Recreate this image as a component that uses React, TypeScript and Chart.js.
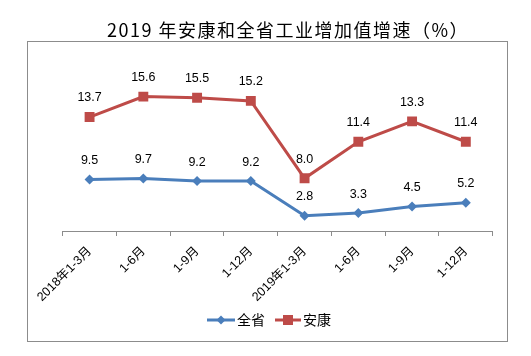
import React, { useEffect, useRef } from "react";
import { Chart, registerables } from "chart.js";

Chart.register(...registerables);

const categories = ["2018年1-3月", "1-6月", "1-9月", "1-12月", "2019年1-3月", "1-6月", "1-9月", "1-12月"];
const provinceValues = [9.5, 9.7, 9.2, 9.2, 2.8, 3.3, 4.5, 5.2];
const ankangValues = [13.7, 15.6, 15.5, 15.2, 8.0, 11.4, 13.3, 11.4];
const seriesNames = ["全省", "安康"];
const titleText = "2019 年安康和全省工业增加值增速（%）";

const BLUE = "#4A7EBB";
const RED = "#BE4B48";

const decorPlugin = {
  id: "decor",
  beforeDraw(chart: any) {
    const ctx = chart.ctx;
    ctx.save();
    ctx.fillStyle = "#fff";
    ctx.fillRect(0, 0, chart.width, chart.height);
    ctx.strokeStyle = "#8c8c8c";
    ctx.lineWidth = 1;
    ctx.strokeRect(27.5, 41.5, 480, 300);
    ctx.fillStyle = "#000";
    ctx.font = '18px "Noto Sans CJK SC", sans-serif';
    try { (ctx as any).letterSpacing = "1.5px"; } catch (e) {}
    ctx.textAlign = "center";
    ctx.textBaseline = "middle";
    ctx.fillText(titleText, 288, 30);
    ctx.restore();
  },
  afterDatasetsDraw(chart: any) {
    const ctx = chart.ctx;
    ctx.save();
    ctx.fillStyle = "#000";
    ctx.font = '12.5px "Liberation Sans", "Noto Sans CJK SC", sans-serif';
    ctx.textAlign = "center";
    ctx.textBaseline = "middle";
    chart.data.datasets.forEach((ds: any, i: number) => {
      const meta = chart.getDatasetMeta(i);
      meta.data.forEach((pt: any, j: number) => {
        const v = ds.data[j];
        ctx.fillText(v.toFixed(1), pt.x, pt.y - 19);
      });
    });
    // legend
    const ly = 320;
    ctx.lineWidth = 3;
    ctx.strokeStyle = BLUE;
    ctx.beginPath();
    ctx.moveTo(207, ly);
    ctx.lineTo(235, ly);
    ctx.stroke();
    ctx.fillStyle = BLUE;
    ctx.beginPath();
    ctx.moveTo(221, ly - 4.5);
    ctx.lineTo(225.5, ly);
    ctx.lineTo(221, ly + 4.5);
    ctx.lineTo(216.5, ly);
    ctx.closePath();
    ctx.fill();
    ctx.strokeStyle = RED;
    ctx.beginPath();
    ctx.moveTo(275, ly);
    ctx.lineTo(301, ly);
    ctx.stroke();
    ctx.fillStyle = RED;
    ctx.fillRect(283, ly - 5, 10, 10);
    ctx.fillStyle = "#000";
    ctx.font = '14px "Noto Sans CJK SC", sans-serif';
    ctx.textAlign = "left";
    ctx.fillText(seriesNames[0], 237, ly);
    ctx.fillText(seriesNames[1], 303, ly);
    ctx.restore();
  },
};

export default function App() {
  const ref = useRef<HTMLCanvasElement | null>(null);
  useEffect(() => {
    if (!ref.current) return;
    const chart = new Chart(ref.current, {
      type: "line",
      data: {
        labels: categories,
        datasets: [
          {
            label: seriesNames[0],
            data: provinceValues,
            borderColor: BLUE,
            backgroundColor: BLUE,
            borderWidth: 3,
            pointStyle: "rectRot",
            pointRadius: 5,
            pointBorderWidth: 0,
            yAxisID: "y",
            tension: 0,
          },
          {
            label: seriesNames[1],
            data: ankangValues,
            borderColor: RED,
            backgroundColor: RED,
            borderWidth: 3,
            pointStyle: "rect",
            pointRadius: 7,
            pointBorderWidth: 0,
            yAxisID: "y2",
            tension: 0,
          },
        ],
      },
      options: {
        responsive: false,
        animation: false,
        layout: { padding: { left: 62.7, right: 38.3, top: 45, bottom: 0 } },
        plugins: {
          legend: { display: false },
          title: { display: false },
          tooltip: { enabled: false },
        },
        scales: {
          x: {
            offset: true,
            grid: {
              offset: true,
              drawOnChartArea: false,
              drawTicks: true,
              tickLength: 5,
              color: "#8c8c8c",
            },
            border: { display: true, color: "#8c8c8c" },
            ticks: {
              autoSkip: false,
              minRotation: 45,
              maxRotation: 45,
              color: "#000",
              font: { family: '"Liberation Sans", "Noto Sans CJK SC", sans-serif', size: 12.5 },
              padding: 8,
            },
            afterFit: (scale: any) => {
              scale.height = 125;
            },
          },
          y: { display: false, min: 0, max: 34.3 },
          y2: { display: false, min: 3.1, max: 20.4 },
        },
      },
      plugins: [decorPlugin],
    });
    return () => chart.destroy();
  }, []);
  return (
    <div style={{ position: "absolute", left: 0, top: 0, width: 531, height: 356 }}>
      <canvas ref={ref} width={531} height={356} style={{ width: 531, height: 356 }} />
    </div>
  );
}
